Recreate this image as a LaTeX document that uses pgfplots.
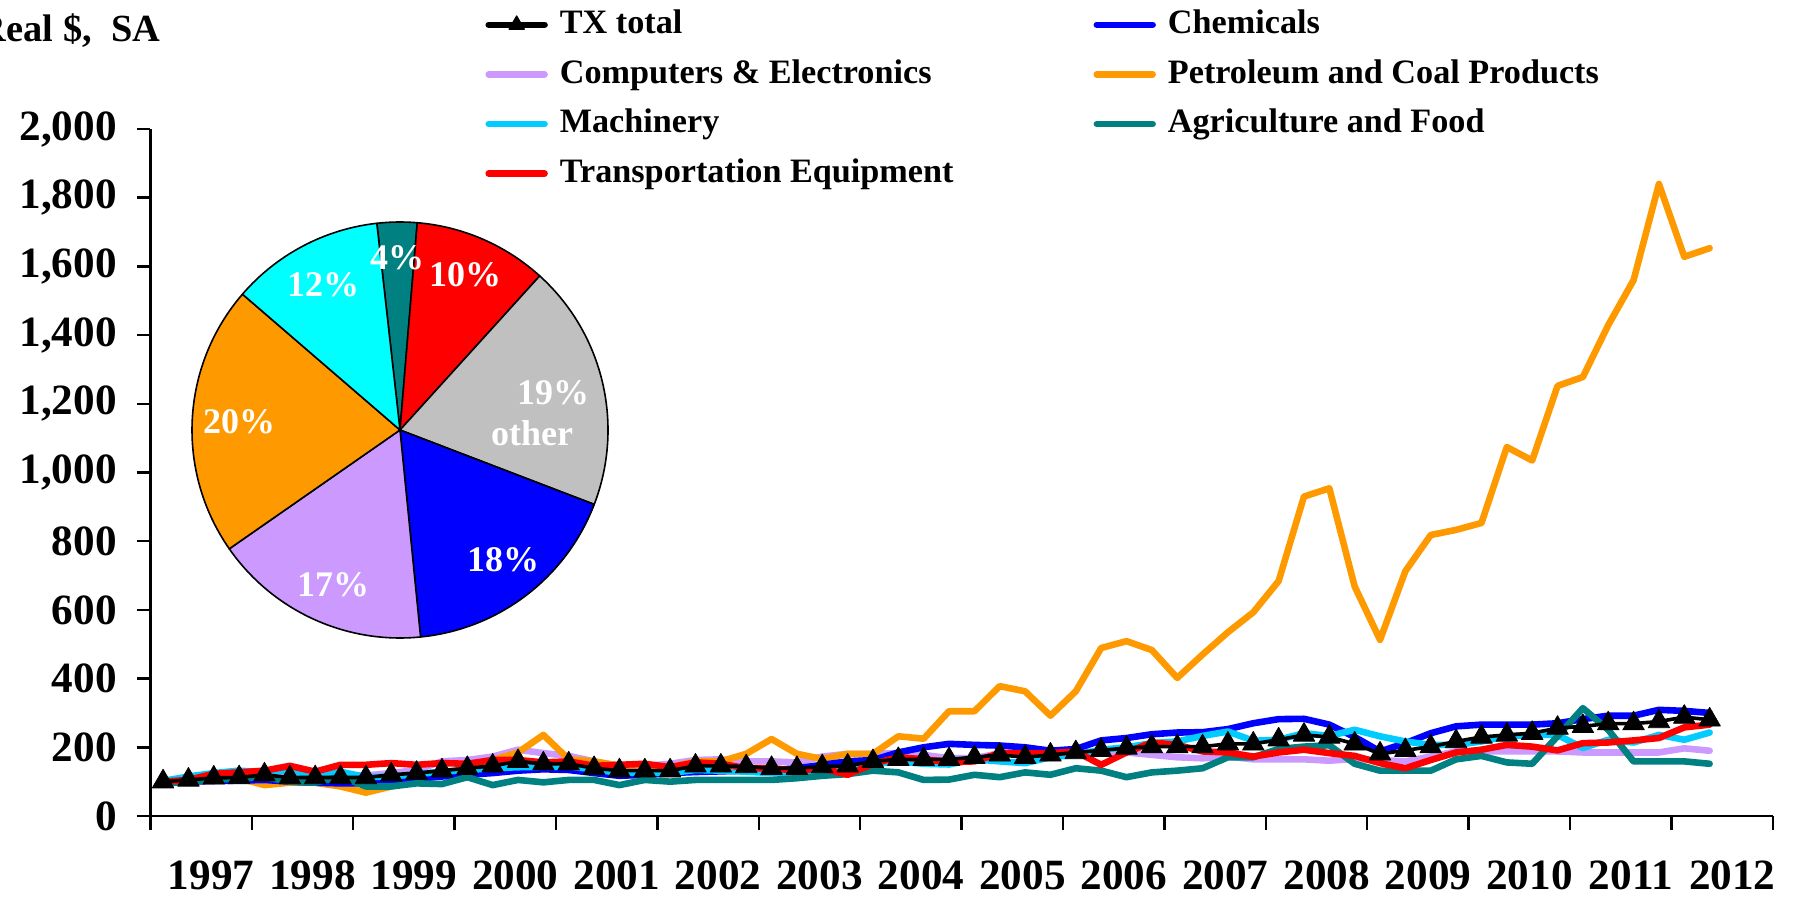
\documentclass[border=0pt]{standalone}
\usepackage{pgfplots}
\pgfplotsset{compat=1.18}
\usepackage{pgfplotstable}
\usepackage{fontspec}
\setmainfont{Liberation Serif}
\definecolor{cChem}{HTML}{0000FF}
\definecolor{cComp}{HTML}{CC99FF}
\definecolor{cPetro}{HTML}{FF9900}
\definecolor{cMach}{HTML}{00CCFF}
\definecolor{cAgri}{HTML}{008080}
\definecolor{cTrans}{HTML}{FF0000}
\definecolor{pCyan}{HTML}{00FFFF}
\definecolor{pGray}{HTML}{C0C0C0}

\pgfplotstableread{
x        tx  chem comp petro mach agri trans
1997.125 100 100  100  100   102  95   100
1997.375 105 100  105  100   115  100  105
1997.625 111 102  110  105   125  105  123
1997.875 112 103  115  110   132  110  127
1998.125 120 105  118  90    127  113  132
1998.375 112 100  115  97    134  100  146
1998.625 112 97   115  97    117  97   129
1998.875 112 95   120  86    129  115  149
1999.125 112 95   118  68    113  86   149
1999.375 120 100  125  86    115  86   154
1999.625 125 108  134  105   122  95   149
1999.875 132 115  159  125   129  93   154
2000.125 139 120  163  139   134  113  152
2000.375 146 125  173  163   139  90   163
2000.625 159 132  193  185   142  105  163
2000.875 152 136  183  236   143  98   156
2001.125 152 134  175  165   144  105  159
2001.375 139 125  159  159   136  105  146
2001.625 132 117  146  146   125  90   149
2001.875 132 120  146  149   127  105  152
2002.125 132 125  152  142   125  100  142
2002.375 146 128  163  159   134  105  156
2002.625 146 130  165  159   132  105  152
2002.875 144 132  159  181   129  105  139
2003.125 139 133  159  224   125  105  139
2003.375 139 139  156  181   125  110  132
2003.625 144 149  173  166   132  117  139
2003.875 146 159  181  181   139  122  120
2004.125 159 163  181  181   152  132  152
2004.375 165 185  183  232   159  127  171
2004.625 165 200  178  225   152  105  165
2004.875 165 210  168  305   150  106  157
2005.125 171 207  168  305   165  120  159
2005.375 178 205  183  378   159  113  183
2005.625 171 200  178  363   154  127  183
2005.875 178 190  183  292   171  120  183
2006.125 185 195  188  363   178  139  188
2006.375 191 220  185  489   193  132  149
2006.625 198 227  185  509   200  113  185
2006.875 202 238  178  483   212  127  214
2007.125 202 243  171  402   217  132  207
2007.375 202 244  168  470   233  139  188
2007.625 210 253  173  535   246  171  185
2007.875 210 270  165  593   219  171  173
2008.125 222 282  165  684   222  195  185
2008.375 236 283  165  930   241  202  193
2008.625 230 266  161  954   233  206  183
2008.875 210 230  166  668   251  152  175
2009.125 181 188  163  513   232  132  154
2009.375 191 212  159  713   217  132  139
2009.625 202 241  173  818   207  132  163
2009.875 217 261  188  833   207  165  185
2010.125 230 266  188  853   217  175  193
2010.375 236 266  188  1074  232  156  207
2010.625 241 266  188  1035  236  152  202
2010.875 256 270  188  1252  236  232  191
2011.125 261 282  185  1278  198  314  212
2011.375 269 292  185  1429  222  251  214
2011.625 269 292  185  1560  214  159  220
2011.875 275 309  185  1840  236  159  227
2012.125 288 306  197  1628  222  159  258
2012.375 280 300  190  1653  243  152  266
}\datatable

\begin{document}
\begin{tikzpicture}[x=0.25pt,y=0.25pt]
\path[use as bounding box] (0,0) rectangle (1797,899);
\begin{axis}[
  at={(37.6pt,20.75pt)}, anchor=south west,
  scale only axis, width=405.65pt, height=171.75pt,
  xmin=1997, xmax=2013, ymin=0, ymax=2000,
  axis x line*=bottom, axis y line*=left,
  axis line style={line width=0.6pt},
  tick style={line width=0.6pt, black},
  tick align=outside, major tick length=3.4pt,
  xtick={1997,...,2013}, xticklabels={},
  extra x ticks={1997.5,1998.5,1999.5,2000.5,2001.5,2002.5,2003.5,2004.5,2005.5,2006.5,2007.5,2008.5,2009.5,2010.5,2011.5,2012.5},
  extra x tick labels={1997,1998,1999,2000,2001,2002,2003,2004,2005,2006,2007,2008,2009,2010,2011,2012},
  extra x tick style={major tick length=0pt},
  ytick={0,200,...,2000},
  /pgf/number format/1000 sep={,},
  /pgf/number format/assume math mode=true,
  ticklabel style={font=\fontsize{10.8}{12}\selectfont\bfseries},
  xticklabel style={yshift=-9.4pt, xshift=2.5pt, inner sep=1.5pt},
  yticklabel style={xshift=-1.5pt},
  legend columns=2,
  legend cell align=left,
  legend image code/.code={\draw[mark repeat=2,mark phase=2,#1] plot coordinates {(0pt,0pt)(7pt,0pt)(14pt,0pt)};},
  legend style={draw=none, fill=none, at={(0.2060,1.177)}, anchor=north west,
    inner sep=0pt, row sep=4.1pt,
    font=\fontsize{8.55}{10}\selectfont\bfseries,
    nodes={inner sep=0pt, text height=6.4pt, text depth=1.9pt},
    /tikz/every odd column/.append style={column sep=3.0pt},
    /tikz/every even column/.append style={column sep=35pt}},
  every axis plot/.append style={line cap=round, line join=round},
]
\addlegendimage{black, line width=1.6pt, mark=triangle*, mark size=2.2pt, mark options={line width=0.3pt}}
\addlegendentry{TX total}
\addlegendimage{cChem, line width=1.6pt}
\addlegendentry{Chemicals}
\addlegendimage{cComp, line width=1.6pt}
\addlegendentry{Computers \& Electronics}
\addlegendimage{cPetro, line width=1.6pt}
\addlegendentry{Petroleum and Coal Products}
\addlegendimage{cMach, line width=1.6pt}
\addlegendentry{Machinery}
\addlegendimage{cAgri, line width=1.6pt}
\addlegendentry{Agriculture and Food}
\addlegendimage{cTrans, line width=1.6pt}
\addlegendentry{Transportation Equipment}

\addplot[cComp, line width=1.65pt, forget plot] table[x=x, y=comp] {\datatable};
\addplot[cPetro, line width=1.65pt, forget plot] table[x=x, y=petro] {\datatable};
\addplot[cChem, line width=1.65pt, forget plot] table[x=x, y=chem] {\datatable};
\addplot[cMach, line width=1.65pt, forget plot] table[x=x, y=mach] {\datatable};
\addplot[cAgri, line width=1.65pt, forget plot] table[x=x, y=agri] {\datatable};
\addplot[cTrans, line width=1.65pt, forget plot] table[x=x, y=trans] {\datatable};
\addplot[black, line width=0.9pt, mark=triangle*, mark size=3.1pt, mark options={line width=0.2pt}, forget plot] table[x=x, y=tx] {\datatable};
\end{axis}

% y-axis title (cut off at the left edge, as in the reference)
\node[anchor=base east, inner sep=0pt, font=\fontsize{9.6}{10}\selectfont\bfseries] at (161,857) {Real \$,\ \ SA};

% inset pie chart of shares
\def\pieR{52pt}
\def\startang{96.4}
\foreach \share/\col in {3.1/cAgri, 10.4/cTrans, 19.1/pGray, 17.6/cChem, 16.9/cComp, 21.0/cPetro, 11.9/pCyan}{
  \pgfmathsetmacro{\endang}{\startang-3.6*\share}
  \filldraw[fill=\col, draw=black, line width=0.4pt, line join=round] (400,469) -- ++(\startang:\pieR) arc[start angle=\startang, end angle=\endang, radius=\pieR] -- cycle;
  \global\let\startang\endang
}
\begin{scope}[every node/.style={text=white, font=\fontsize{9}{10}\selectfont\bfseries, inner sep=0pt}]
\node at (397,641) {4\%};
\node at (465,624) {10\%};
\node at (323,614) {12\%};
\node at (239,477) {20\%};
\node at (553,506) {19\%};
\node at (532,466) {other};
\node at (503,339) {18\%};
\node at (333,314) {17\%};
\end{scope}
\end{tikzpicture}
\end{document}
